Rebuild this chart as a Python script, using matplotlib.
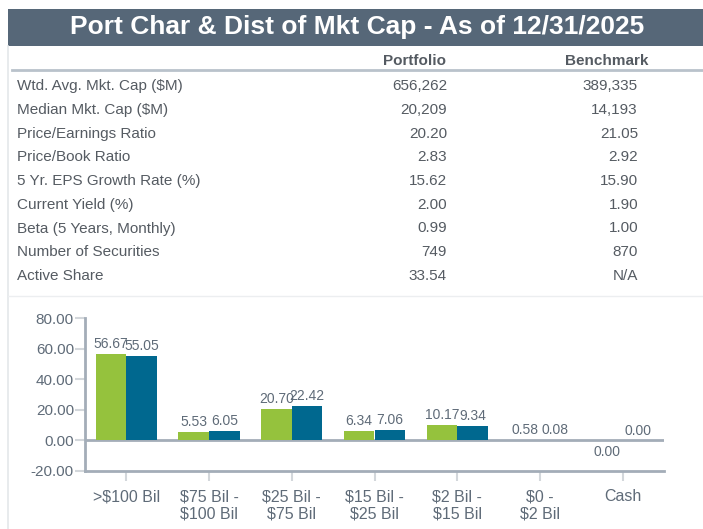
import matplotlib.pyplot as plt
from matplotlib.patches import Rectangle
from matplotlib.lines import Line2D
import numpy as np

# table data
row_labels = ["Wtd. Avg. Mkt. Cap ($M)", "Median Mkt. Cap ($M)", "Price/Earnings Ratio",
              "Price/Book Ratio", "5 Yr. EPS Growth Rate (%)", "Current Yield (%)",
              "Beta (5 Years, Monthly)", "Number of Securities", "Active Share"]
portfolio_stats = ["656,262", "20,209", "20.20", "2.83", "15.62", "2.00", "0.99", "749", "33.54"]
benchmark_stats = ["389,335", "14,193", "21.05", "2.92", "15.90", "1.90", "1.00", "870", "N/A"]

# bar chart data
categories = [">$100 Bil", "$75 Bil -\n$100 Bil", "$25 Bil -\n$75 Bil", "$15 Bil -\n$25 Bil",
              "$2 Bil -\n$15 Bil", "$0 -\n$2 Bil", "Cash"]
portfolio = [56.67, 5.53, 20.70, 6.34, 10.17, 0.58, -0.001]
benchmark = [55.05, 6.05, 22.42, 7.06, 9.34, 0.08, 0.00]

W, H = 703, 529
FONT = "Liberation Sans"
HEAD_BG = "#566778"
TXT = "#555b62"
AX_TXT = "#5f6b78"
GREEN = "#95c23d"
BLUE = "#00688f"

fig = plt.figure(figsize=(W / 100, H / 100), dpi=100)


def fy(y):
    # pixel y from top -> figure fraction
    return 1 - y / H


def fx(x):
    return x / W


# title bar
fig.patches.append(Rectangle((fx(8), fy(46)), 1, fy(9) - fy(46), transform=fig.transFigure,
                             facecolor=HEAD_BG, edgecolor="none"))
fig.text(fx(357), fy(27.5), "Port Char & Dist of Mkt Cap - As of 12/31/2025", ha="center", va="center",
         color="white", fontsize=19, fontweight="bold", family=FONT)

# frame lines
fig.add_artist(Line2D([fx(8), fx(8)], [fy(46), 0], transform=fig.transFigure, color="#e4e7ea", lw=1.2))
fig.add_artist(Line2D([fx(12), 1], [fy(70), fy(70)], transform=fig.transFigure, color="#b9c2cb", lw=2))
fig.add_artist(Line2D([fx(8), 1], [fy(296), fy(296)], transform=fig.transFigure, color="#eceef0", lw=1))

# table header
fig.text(fx(415), fy(61), "Portfolio", ha="center", va="center", color=TXT,
         fontsize=11, fontweight="bold", family=FONT)
fig.text(fx(607), fy(61), "Benchmark", ha="center", va="center", color=TXT,
         fontsize=11, fontweight="bold", family=FONT)

# table rows
for i, (lab, p, b) in enumerate(zip(row_labels, portfolio_stats, benchmark_stats)):
    y = fy(86 + i * 23.75)
    fig.text(fx(17), y, lab, ha="left", va="center", color=TXT, fontsize=11, family=FONT)
    fig.text(fx(447), y, p, ha="right", va="center", color=TXT, fontsize=11, family=FONT)
    fig.text(fx(638), y, b, ha="right", va="center", color=TXT, fontsize=11, family=FONT)

# bar chart
ax = fig.add_axes([fx(85), fy(471), fx(664) - fx(85), fy(318) - fy(471)])
x = np.arange(len(categories))
bw = 0.37
ax.axhline(0, color="#a3adb8", lw=2, zorder=1)
b1 = ax.bar(x - bw / 2, portfolio, bw, color=GREEN, zorder=2)
b2 = ax.bar(x + bw / 2, benchmark, bw, color=BLUE, zorder=2)

for bars, vals in ((b1, portfolio), (b2, benchmark)):
    for r, v in zip(bars, vals):
        lab = f"{abs(v):.2f}"
        if v < 0:
            ax.annotate(lab, (r.get_x() + r.get_width() / 2, v), xytext=(0, -3),
                        textcoords="offset points", ha="center", va="top",
                        fontsize=10, color=AX_TXT, family=FONT)
        else:
            ax.annotate(lab, (r.get_x() + r.get_width() / 2, v), xytext=(0, 2),
                        textcoords="offset points", ha="center", va="bottom",
                        fontsize=10, color=AX_TXT, family=FONT)

ax.set_xlim(-0.5, len(categories) - 0.5)
ax.set_ylim(-20, 80)
ax.set_yticks([-20, 0, 20, 40, 60, 80])
ax.set_yticklabels([f"{v:.2f}" for v in [-20, 0, 20, 40, 60, 80]])
ax.set_xticks(x)
ax.set_xticklabels(categories)
for lbl in ax.get_yticklabels():
    lbl.set_family(FONT)
    lbl.set_fontsize(11)
    lbl.set_color(AX_TXT)
for lbl in ax.get_xticklabels():
    lbl.set_family(FONT)
    lbl.set_fontsize(11.5)
    lbl.set_color(AX_TXT)
ax.tick_params(axis="y", length=7, width=1.5, color="#d3d7db", pad=1)
ax.tick_params(axis="x", length=7, width=1.5, color="#d3d7db", pad=6)
for s in ["top", "right"]:
    ax.spines[s].set_visible(False)
for s in ["left", "bottom"]:
    ax.spines[s].set_color("#a3adb8")
    ax.spines[s].set_linewidth(2)
ax.patch.set_visible(False)

fig.savefig("out.png", dpi=100)
